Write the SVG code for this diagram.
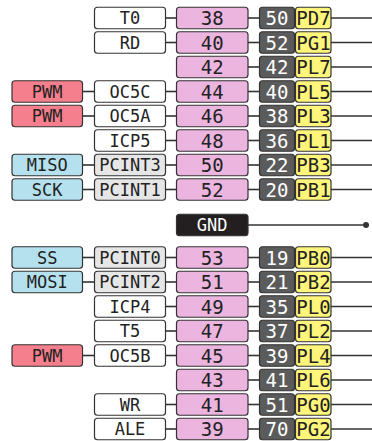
<svg xmlns="http://www.w3.org/2000/svg" width="372" height="441" viewBox="0 0 372 441">
  <style>
    text { font-family: "DejaVu Sans Mono", "Liberation Mono", monospace; font-size: 17px; text-anchor: middle; dominant-baseline: central; fill: #222; }
    .box { stroke: #333; stroke-width: 1.2; }
    .white { fill: #ffffff; }
    .pcint { fill: #e6e6e6; }
    .pwm { fill: #f57f8c; }
    .spi { fill: #b5e1ee; }
    .pin { fill: #ebb5e0; }
    .port { fill: #5b5b5b; }
    .io { fill: #fff57a; }
    .gnd { fill: #231f20; }
    .lt { fill: #ffffff; }
    .num { font-size: 19px; }
    #connectors line { stroke: #333; stroke-width: 1.6; }
  </style>

  <!-- connectors -->
  <g id="connectors">
    <!-- upper header rows -->
    <line x1="165.5" y1="18" x2="176.5" y2="18"/><line x1="248" y1="18" x2="259.5" y2="18"/><line x1="331" y1="18" x2="372" y2="18"/>
    <line x1="165.5" y1="42.5" x2="176.5" y2="42.5"/><line x1="248" y1="42.5" x2="259.5" y2="42.5"/><line x1="331" y1="42.5" x2="372" y2="42.5"/>
    <line x1="248" y1="67" x2="259.5" y2="67"/><line x1="331" y1="67" x2="372" y2="67"/>
    <line x1="82.5" y1="91.5" x2="94.5" y2="91.5"/><line x1="165.5" y1="91.5" x2="176.5" y2="91.5"/><line x1="248" y1="91.5" x2="259.5" y2="91.5"/><line x1="331" y1="91.5" x2="372" y2="91.5"/>
    <line x1="82.5" y1="116" x2="94.5" y2="116"/><line x1="165.5" y1="116" x2="176.5" y2="116"/><line x1="248" y1="116" x2="259.5" y2="116"/><line x1="331" y1="116" x2="372" y2="116"/>
    <line x1="165.5" y1="140.5" x2="176.5" y2="140.5"/><line x1="248" y1="140.5" x2="259.5" y2="140.5"/><line x1="331" y1="140.5" x2="372" y2="140.5"/>
    <line x1="82.5" y1="165" x2="94.5" y2="165"/><line x1="165.5" y1="165" x2="176.5" y2="165"/><line x1="248" y1="165" x2="259.5" y2="165"/><line x1="331" y1="165" x2="372" y2="165"/>
    <line x1="82.5" y1="189.5" x2="94.5" y2="189.5"/><line x1="165.5" y1="189.5" x2="176.5" y2="189.5"/><line x1="248" y1="189.5" x2="259.5" y2="189.5"/><line x1="331" y1="189.5" x2="372" y2="189.5"/>
    <!-- ground -->
    <line x1="248" y1="225" x2="366" y2="225"/>
    <circle cx="366" cy="225" r="3" fill="#333"/>
    <!-- lower header rows -->
    <line x1="82.5" y1="257.5" x2="94.5" y2="257.5"/><line x1="165.5" y1="257.5" x2="176.5" y2="257.5"/><line x1="248" y1="257.5" x2="259.5" y2="257.5"/><line x1="331" y1="257.5" x2="372" y2="257.5"/>
    <line x1="82.5" y1="282" x2="94.5" y2="282"/><line x1="165.5" y1="282" x2="176.5" y2="282"/><line x1="248" y1="282" x2="259.5" y2="282"/><line x1="331" y1="282" x2="372" y2="282"/>
    <line x1="165.5" y1="306.5" x2="176.5" y2="306.5"/><line x1="248" y1="306.5" x2="259.5" y2="306.5"/><line x1="331" y1="306.5" x2="372" y2="306.5"/>
    <line x1="165.5" y1="331" x2="176.5" y2="331"/><line x1="248" y1="331" x2="259.5" y2="331"/><line x1="331" y1="331" x2="372" y2="331"/>
    <line x1="82.5" y1="355.5" x2="94.5" y2="355.5"/><line x1="165.5" y1="355.5" x2="176.5" y2="355.5"/><line x1="248" y1="355.5" x2="259.5" y2="355.5"/><line x1="331" y1="355.5" x2="372" y2="355.5"/>
    <line x1="248" y1="380" x2="259.5" y2="380"/><line x1="331" y1="380" x2="372" y2="380"/>
    <line x1="165.5" y1="404.5" x2="176.5" y2="404.5"/><line x1="248" y1="404.5" x2="259.5" y2="404.5"/><line x1="331" y1="404.5" x2="372" y2="404.5"/>
    <line x1="165.5" y1="429" x2="176.5" y2="429"/><line x1="248" y1="429" x2="259.5" y2="429"/><line x1="331" y1="429" x2="372" y2="429"/>
  </g>

  <!-- pin 38 / PD7 -->
  <g id="pin38" transform="translate(0,18)">
    <rect class="box white" x="94.5" y="-10.75" width="71" height="21.5" rx="3"/><text x="130" y="0">T0</text>
    <rect class="box pin" x="176.5" y="-10.75" width="71.5" height="21.5" rx="3"/><text class="num" x="212.2" y="0">38</text>
    <rect class="box port" x="259.5" y="-10.75" width="35" height="21.5" rx="3"/><text class="num lt" x="277" y="0">50</text>
    <rect class="box io" x="295.5" y="-10.75" width="35.5" height="21.5" rx="3"/><text class="num" x="313.5" y="0">PD7</text>
  </g>
  <g id="pin40" transform="translate(0,42.5)">
    <rect class="box white" x="94.5" y="-10.75" width="71" height="21.5" rx="3"/><text x="130" y="0">RD</text>
    <rect class="box pin" x="176.5" y="-10.75" width="71.5" height="21.5" rx="3"/><text class="num" x="212.2" y="0">40</text>
    <rect class="box port" x="259.5" y="-10.75" width="35" height="21.5" rx="3"/><text class="num lt" x="277" y="0">52</text>
    <rect class="box io" x="295.5" y="-10.75" width="35.5" height="21.5" rx="3"/><text class="num" x="313.5" y="0">PG1</text>
  </g>
  <g id="pin42" transform="translate(0,67)">
    <rect class="box pin" x="176.5" y="-10.75" width="71.5" height="21.5" rx="3"/><text class="num" x="212.2" y="0">42</text>
    <rect class="box port" x="259.5" y="-10.75" width="35" height="21.5" rx="3"/><text class="num lt" x="277" y="0">42</text>
    <rect class="box io" x="295.5" y="-10.75" width="35.5" height="21.5" rx="3"/><text class="num" x="313.5" y="0">PL7</text>
  </g>
  <g id="pin44" transform="translate(0,91.5)">
    <rect class="box pwm" x="12" y="-10.75" width="70.5" height="21.5" rx="3"/><text x="47.2" y="0">PWM</text>
    <rect class="box white" x="94.5" y="-10.75" width="71" height="21.5" rx="3"/><text x="130" y="0">OC5C</text>
    <rect class="box pin" x="176.5" y="-10.75" width="71.5" height="21.5" rx="3"/><text class="num" x="212.2" y="0">44</text>
    <rect class="box port" x="259.5" y="-10.75" width="35" height="21.5" rx="3"/><text class="num lt" x="277" y="0">40</text>
    <rect class="box io" x="295.5" y="-10.75" width="35.5" height="21.5" rx="3"/><text class="num" x="313.5" y="0">PL5</text>
  </g>
  <g id="pin46" transform="translate(0,116)">
    <rect class="box pwm" x="12" y="-10.75" width="70.5" height="21.5" rx="3"/><text x="47.2" y="0">PWM</text>
    <rect class="box white" x="94.5" y="-10.75" width="71" height="21.5" rx="3"/><text x="130" y="0">OC5A</text>
    <rect class="box pin" x="176.5" y="-10.75" width="71.5" height="21.5" rx="3"/><text class="num" x="212.2" y="0">46</text>
    <rect class="box port" x="259.5" y="-10.75" width="35" height="21.5" rx="3"/><text class="num lt" x="277" y="0">38</text>
    <rect class="box io" x="295.5" y="-10.75" width="35.5" height="21.5" rx="3"/><text class="num" x="313.5" y="0">PL3</text>
  </g>
  <g id="pin48" transform="translate(0,140.5)">
    <rect class="box white" x="94.5" y="-10.75" width="71" height="21.5" rx="3"/><text x="130" y="0">ICP5</text>
    <rect class="box pin" x="176.5" y="-10.75" width="71.5" height="21.5" rx="3"/><text class="num" x="212.2" y="0">48</text>
    <rect class="box port" x="259.5" y="-10.75" width="35" height="21.5" rx="3"/><text class="num lt" x="277" y="0">36</text>
    <rect class="box io" x="295.5" y="-10.75" width="35.5" height="21.5" rx="3"/><text class="num" x="313.5" y="0">PL1</text>
  </g>
  <g id="pin50" transform="translate(0,165)">
    <rect class="box spi" x="12" y="-10.75" width="70.5" height="21.5" rx="3"/><text x="47.2" y="0">MISO</text>
    <rect class="box pcint" x="94.5" y="-10.75" width="71" height="21.5" rx="3"/><text x="130" y="0">PCINT3</text>
    <rect class="box pin" x="176.5" y="-10.75" width="71.5" height="21.5" rx="3"/><text class="num" x="212.2" y="0">50</text>
    <rect class="box port" x="259.5" y="-10.75" width="35" height="21.5" rx="3"/><text class="num lt" x="277" y="0">22</text>
    <rect class="box io" x="295.5" y="-10.75" width="35.5" height="21.5" rx="3"/><text class="num" x="313.5" y="0">PB3</text>
  </g>
  <g id="pin52" transform="translate(0,189.5)">
    <rect class="box spi" x="12" y="-10.75" width="70.5" height="21.5" rx="3"/><text x="47.2" y="0">SCK</text>
    <rect class="box pcint" x="94.5" y="-10.75" width="71" height="21.5" rx="3"/><text x="130" y="0">PCINT1</text>
    <rect class="box pin" x="176.5" y="-10.75" width="71.5" height="21.5" rx="3"/><text class="num" x="212.2" y="0">52</text>
    <rect class="box port" x="259.5" y="-10.75" width="35" height="21.5" rx="3"/><text class="num lt" x="277" y="0">20</text>
    <rect class="box io" x="295.5" y="-10.75" width="35.5" height="21.5" rx="3"/><text class="num" x="313.5" y="0">PB1</text>
  </g>

  <g id="gnd" transform="translate(0,225)">
    <rect class="box gnd" x="176.5" y="-10.75" width="71.5" height="21.5" rx="3"/><text class="lt" x="212.2" y="0">GND</text>
  </g>

  <g id="pin53" transform="translate(0,257.5)">
    <rect class="box spi" x="12" y="-10.75" width="70.5" height="21.5" rx="3"/><text x="47.2" y="0">SS</text>
    <rect class="box pcint" x="94.5" y="-10.75" width="71" height="21.5" rx="3"/><text x="130" y="0">PCINT0</text>
    <rect class="box pin" x="176.5" y="-10.75" width="71.5" height="21.5" rx="3"/><text class="num" x="212.2" y="0">53</text>
    <rect class="box port" x="259.5" y="-10.75" width="35" height="21.5" rx="3"/><text class="num lt" x="277" y="0">19</text>
    <rect class="box io" x="295.5" y="-10.75" width="35.5" height="21.5" rx="3"/><text class="num" x="313.5" y="0">PB0</text>
  </g>
  <g id="pin51" transform="translate(0,282)">
    <rect class="box spi" x="12" y="-10.75" width="70.5" height="21.5" rx="3"/><text x="47.2" y="0">MOSI</text>
    <rect class="box pcint" x="94.5" y="-10.75" width="71" height="21.5" rx="3"/><text x="130" y="0">PCINT2</text>
    <rect class="box pin" x="176.5" y="-10.75" width="71.5" height="21.5" rx="3"/><text class="num" x="212.2" y="0">51</text>
    <rect class="box port" x="259.5" y="-10.75" width="35" height="21.5" rx="3"/><text class="num lt" x="277" y="0">21</text>
    <rect class="box io" x="295.5" y="-10.75" width="35.5" height="21.5" rx="3"/><text class="num" x="313.5" y="0">PB2</text>
  </g>
  <g id="pin49" transform="translate(0,306.5)">
    <rect class="box white" x="94.5" y="-10.75" width="71" height="21.5" rx="3"/><text x="130" y="0">ICP4</text>
    <rect class="box pin" x="176.5" y="-10.75" width="71.5" height="21.5" rx="3"/><text class="num" x="212.2" y="0">49</text>
    <rect class="box port" x="259.5" y="-10.75" width="35" height="21.5" rx="3"/><text class="num lt" x="277" y="0">35</text>
    <rect class="box io" x="295.5" y="-10.75" width="35.5" height="21.5" rx="3"/><text class="num" x="313.5" y="0">PL0</text>
  </g>
  <g id="pin47" transform="translate(0,331)">
    <rect class="box white" x="94.5" y="-10.75" width="71" height="21.5" rx="3"/><text x="130" y="0">T5</text>
    <rect class="box pin" x="176.5" y="-10.75" width="71.5" height="21.5" rx="3"/><text class="num" x="212.2" y="0">47</text>
    <rect class="box port" x="259.5" y="-10.75" width="35" height="21.5" rx="3"/><text class="num lt" x="277" y="0">37</text>
    <rect class="box io" x="295.5" y="-10.75" width="35.5" height="21.5" rx="3"/><text class="num" x="313.5" y="0">PL2</text>
  </g>
  <g id="pin45" transform="translate(0,355.5)">
    <rect class="box pwm" x="12" y="-10.75" width="70.5" height="21.5" rx="3"/><text x="47.2" y="0">PWM</text>
    <rect class="box white" x="94.5" y="-10.75" width="71" height="21.5" rx="3"/><text x="130" y="0">OC5B</text>
    <rect class="box pin" x="176.5" y="-10.75" width="71.5" height="21.5" rx="3"/><text class="num" x="212.2" y="0">45</text>
    <rect class="box port" x="259.5" y="-10.75" width="35" height="21.5" rx="3"/><text class="num lt" x="277" y="0">39</text>
    <rect class="box io" x="295.5" y="-10.75" width="35.5" height="21.5" rx="3"/><text class="num" x="313.5" y="0">PL4</text>
  </g>
  <g id="pin43" transform="translate(0,380)">
    <rect class="box pin" x="176.5" y="-10.75" width="71.5" height="21.5" rx="3"/><text class="num" x="212.2" y="0">43</text>
    <rect class="box port" x="259.5" y="-10.75" width="35" height="21.5" rx="3"/><text class="num lt" x="277" y="0">41</text>
    <rect class="box io" x="295.5" y="-10.75" width="35.5" height="21.5" rx="3"/><text class="num" x="313.5" y="0">PL6</text>
  </g>
  <g id="pin41" transform="translate(0,404.5)">
    <rect class="box white" x="94.5" y="-10.75" width="71" height="21.5" rx="3"/><text x="130" y="0">WR</text>
    <rect class="box pin" x="176.5" y="-10.75" width="71.5" height="21.5" rx="3"/><text class="num" x="212.2" y="0">41</text>
    <rect class="box port" x="259.5" y="-10.75" width="35" height="21.5" rx="3"/><text class="num lt" x="277" y="0">51</text>
    <rect class="box io" x="295.5" y="-10.75" width="35.5" height="21.5" rx="3"/><text class="num" x="313.5" y="0">PG0</text>
  </g>
  <g id="pin39" transform="translate(0,429)">
    <rect class="box white" x="94.5" y="-10.75" width="71" height="21.5" rx="3"/><text x="130" y="0">ALE</text>
    <rect class="box pin" x="176.5" y="-10.75" width="71.5" height="21.5" rx="3"/><text class="num" x="212.2" y="0">39</text>
    <rect class="box port" x="259.5" y="-10.75" width="35" height="21.5" rx="3"/><text class="num lt" x="277" y="0">70</text>
    <rect class="box io" x="295.5" y="-10.75" width="35.5" height="21.5" rx="3"/><text class="num" x="313.5" y="0">PG2</text>
  </g>
</svg>
